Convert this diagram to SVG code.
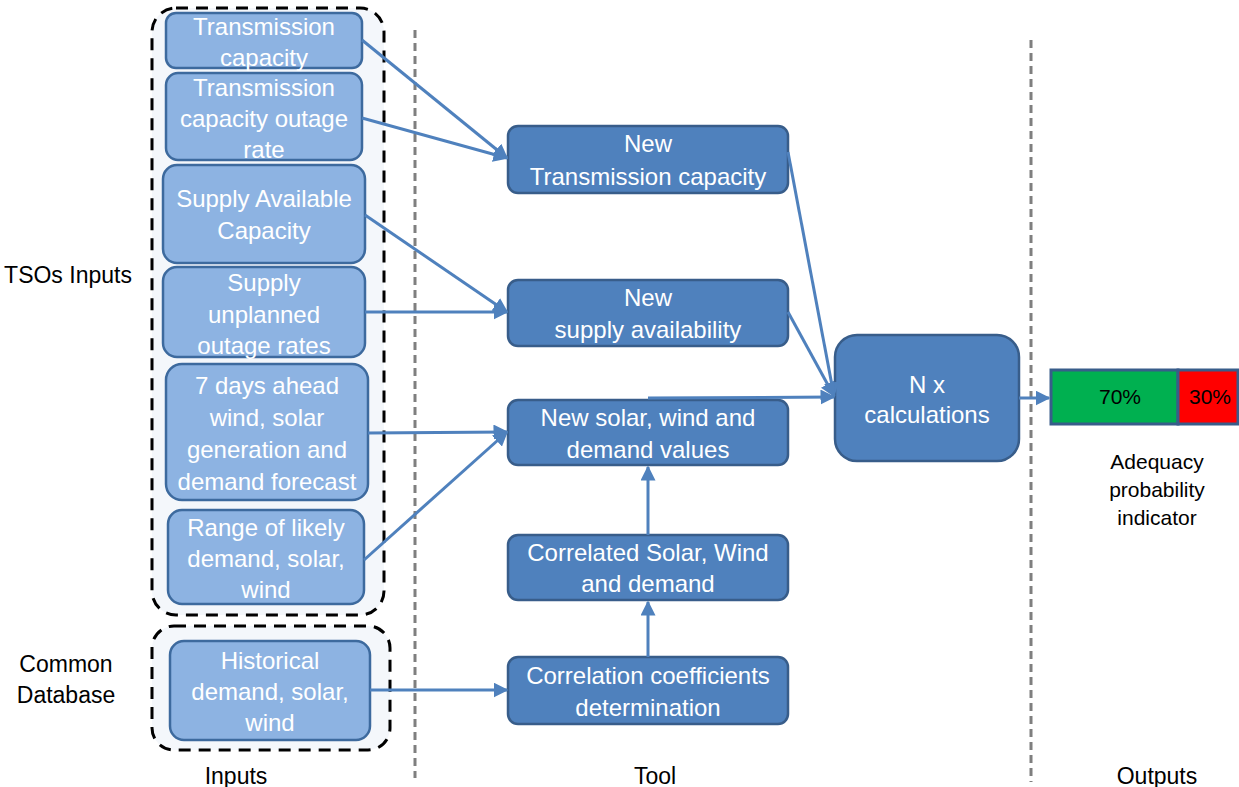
<svg xmlns="http://www.w3.org/2000/svg" width="1239" height="787" viewBox="0 0 1239 787">
<style>
.in{fill:#8db3e2;stroke:#3d6a9e;stroke-width:2.5}
.tl{fill:#4f81bd;stroke:#385d8a;stroke-width:2.5}
.grp{fill:#f4f7fb;stroke:#000;stroke-width:3;stroke-dasharray:12,8}
.sep{stroke:#7f7f7f;stroke-width:3;stroke-dasharray:8,5}
.w{font-family:"Liberation Sans",Arial,sans-serif;font-size:24px;fill:#fff;text-anchor:middle}
.k{font-family:"Liberation Sans",Arial,sans-serif;font-size:23px;fill:#000;text-anchor:middle}
.s{font-family:"Liberation Sans",Arial,sans-serif;font-size:21px;fill:#000;text-anchor:middle}
.c line{stroke:#4f81bd;stroke-width:3;marker-end:url(#ah)}
</style>
<defs>
<marker id="ah" viewBox="0 0 10 10" refX="9" refY="5" markerWidth="5" markerHeight="5" orient="auto" markerUnits="strokeWidth">
<path d="M0,0 L10,5 L0,10 z" fill="#4f81bd"/>
</marker>
</defs>
<rect width="1239" height="787" fill="#fff"/>
<line class="sep" x1="415" y1="30" x2="415" y2="778"/>
<line class="sep" x1="1031" y1="40" x2="1031" y2="782"/>
<rect class="grp" x="152" y="8" width="232" height="607" rx="24"/>
<rect class="grp" x="152" y="626" width="238" height="124" rx="22"/>
<text class="k" x="68" y="283">TSOs Inputs</text>
<text class="k" x="66" y="672">Common</text>
<text class="k" x="66" y="703">Database</text>
<text class="k" x="236" y="784">Inputs</text>
<text class="k" x="655" y="784">Tool</text>
<text class="k" x="1157" y="784">Outputs</text>
<g id="n1"><rect class="in" x="166" y="13" width="196" height="55" rx="10"/><text class="w" x="264" y="35">Transmission</text><text class="w" x="264" y="66">capacity</text></g>
<g id="n2"><rect class="in" x="166" y="73" width="196" height="87" rx="12"/><text class="w" x="264" y="96">Transmission</text><text class="w" x="264" y="127">capacity outage</text><text class="w" x="264" y="158">rate</text></g>
<g id="n3"><rect class="in" x="163" y="165" width="202" height="98" rx="14"/><text class="w" x="264" y="207">Supply Available</text><text class="w" x="264" y="239">Capacity</text></g>
<g id="n4"><rect class="in" x="163" y="267" width="202" height="90" rx="14"/><text class="w" x="264" y="291">Supply</text><text class="w" x="264" y="323">unplanned</text><text class="w" x="264" y="354">outage rates</text></g>
<g id="n5"><rect class="in" x="166" y="364" width="202" height="136" rx="16"/><text class="w" x="267" y="394">7 days ahead</text><text class="w" x="267" y="426">wind, solar</text><text class="w" x="267" y="458">generation and</text><text class="w" x="267" y="490">demand forecast</text></g>
<g id="n6"><rect class="in" x="168" y="510" width="196" height="94" rx="14"/><text class="w" x="266" y="536">Range of likely</text><text class="w" x="266" y="567">demand, solar,</text><text class="w" x="266" y="598">wind</text></g>
<g id="n7"><rect class="in" x="170" y="641" width="200" height="99" rx="14"/><text class="w" x="270" y="669">Historical</text><text class="w" x="270" y="700">demand, solar,</text><text class="w" x="270" y="731">wind</text></g>
<g id="t1"><rect class="tl" x="508" y="126" width="280" height="67" rx="10"/><text class="w" x="648" y="152">New</text><text class="w" x="648" y="185">Transmission capacity</text></g>
<g id="t2"><rect class="tl" x="508" y="280" width="280" height="66" rx="10"/><text class="w" x="648" y="306">New</text><text class="w" x="648" y="338">supply availability</text></g>
<g id="t3"><rect class="tl" x="508" y="400" width="280" height="65" rx="10"/><text class="w" x="648" y="426">New solar, wind and</text><text class="w" x="648" y="458">demand values</text></g>
<g id="t4"><rect class="tl" x="508" y="535" width="280" height="65" rx="10"/><text class="w" x="648" y="561">Correlated Solar, Wind</text><text class="w" x="648" y="592">and demand</text></g>
<g id="t5"><rect class="tl" x="508" y="657" width="280" height="67" rx="10"/><text class="w" x="648" y="684">Correlation coefficients</text><text class="w" x="648" y="716">determination</text></g>
<g id="nx"><rect class="tl" x="835" y="335" width="184" height="126" rx="22"/><text class="w" x="927" y="393">N x</text><text class="w" x="927" y="423">calculations</text></g>
<g id="out">
<rect x="1051" y="370" width="127" height="54" fill="#00b050" stroke="#385d8a" stroke-width="3"/>
<rect x="1178" y="370" width="60" height="54" fill="#ff0000" stroke="#385d8a" stroke-width="3"/>
<text class="s" x="1120" y="404">70%</text>
<text class="s" x="1210" y="404">30%</text>
<text class="s" x="1157" y="469">Adequacy</text>
<text class="s" x="1157" y="497">probability</text>
<text class="s" x="1157" y="525">indicator</text>
</g>
<g id="connectors" class="c">
<line x1="362" y1="40" x2="507" y2="158"/>
<line x1="362" y1="118" x2="507" y2="158"/>
<line x1="365" y1="215" x2="507" y2="312"/>
<line x1="365" y1="312" x2="507" y2="312"/>
<line x1="368" y1="433" x2="507" y2="432"/>
<line x1="364" y1="560" x2="507" y2="432"/>
<line x1="370" y1="690" x2="507" y2="690"/>
<line x1="648" y1="535" x2="648" y2="467"/>
<line x1="648" y1="657" x2="648" y2="602"/>
<line x1="788" y1="152" x2="834" y2="396"/>
<line x1="788" y1="312" x2="834" y2="396"/>
<line x1="648" y1="398" x2="834" y2="397"/>
<line x1="1019" y1="398" x2="1049" y2="398"/>
</g>
</svg>
